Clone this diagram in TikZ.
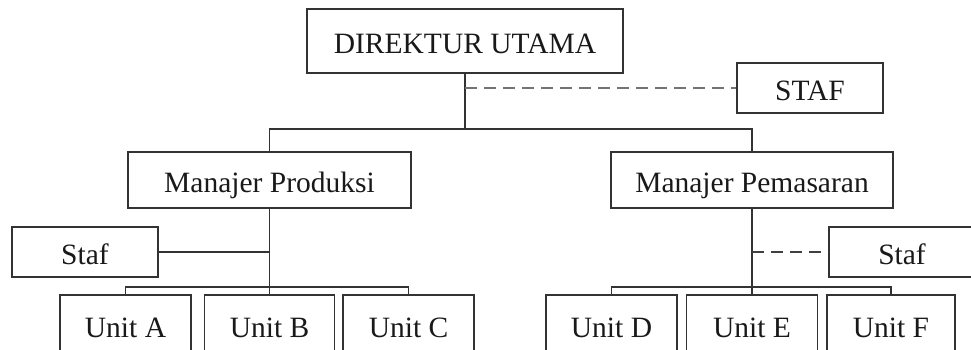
\documentclass[tikz,border=0pt]{standalone}
\usepackage{fontspec}
\setmainfont{Liberation Serif}
\begin{document}
\begin{tikzpicture}[x=1pt,y=-1pt,
  box/.style={draw=black!80, line width=1.3pt, fill=white, inner sep=0pt,
    text height=24pt, text depth=0pt, text=black!90,
    font=\fontsize{29.5}{34}\selectfont},
  conn/.style={draw=black!80, line width=1.2pt},
  dashline/.style={draw=black!55, line width=1.3pt, dash pattern=on 12pt off 7pt},
]
\clip (0,0) rectangle (971,349);
\node[box, minimum width=316pt, minimum height=64pt] (dir) at (465,41) {DIREKTUR UTAMA};
\node[box, minimum width=146pt, minimum height=50pt] (staf) at (810,88) {STAF};
\node[box, minimum width=283pt, minimum height=56pt] (prod) at (269.5,180) {Manajer Produksi};
\node[box, minimum width=282pt, minimum height=56pt] (pem) at (752,180) {Manajer Pemasaran};
\node[box, minimum width=146pt, minimum height=50pt] (stafl) at (85,252) {Staf};
\node[box, minimum width=146pt, minimum height=50pt] (stafr) at (902,252) {Staf};
\node[box, minimum width=131pt, minimum height=60pt] (ua) at (125.5,325) {Unit A};
\node[box, minimum width=130pt, minimum height=60pt] (ub) at (269.5,325) {Unit B};
\node[box, minimum width=131pt, minimum height=60pt] (uc) at (408.5,325) {Unit C};
\node[box, minimum width=131pt, minimum height=60pt] (ud) at (611.5,325) {Unit D};
\node[box, minimum width=131pt, minimum height=60pt] (ue) at (752,325) {Unit E};
\node[box, minimum width=128pt, minimum height=60pt] (uf) at (891,325) {Unit F};

\coordinate (bar1) at (465,129);
\coordinate (bar2) at (269.5,287);
\coordinate (bar3) at (752,287);

\draw[conn] (dir.south) -- (bar1);
\draw[conn] (prod.north) |- (bar1) -| (pem.north);
\draw[dashline] (dir.south |- staf.west) -- (staf.west);

\draw[conn] (prod.south) -- (ub.north);
\draw[conn] (ua.north) |- (bar2) -| (uc.north);
\draw[conn] (stafl.east) -- (stafl.east -| prod.south);

\draw[conn] (pem.south) -- (ue.north);
\draw[conn] (ud.north) |- (bar3) -| (uf.north);
\draw[dashline, draw=black!75] (pem.south |- stafr.west) -- (stafr.west);
\end{tikzpicture}
\end{document}
